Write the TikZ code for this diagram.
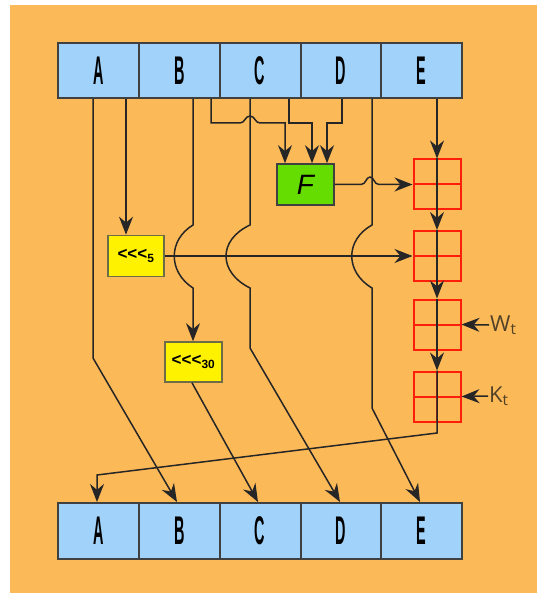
\documentclass[tikz,border=0pt]{standalone}
\usepackage{fontspec}
\setmainfont{Liberation Sans}
\newfontfamily\lightfont{Open Sans}
\usetikzlibrary{arrows.meta,calc}
\definecolor{bgorange}{RGB}{252,185,88}
\definecolor{regblue}{RGB}{160,210,250}
\definecolor{fgreen}{RGB}{102,221,0}
\definecolor{addred}{RGB}{255,30,10}
\definecolor{wktext}{RGB}{80,65,40}
\tikzset{myarrow/.tip={Stealth[length=18pt,width=14pt]}}
\begin{document}
\begin{tikzpicture}[x=1pt,y=-1pt,
  reg/.style={draw=black!75,line width=2pt,fill=regblue,minimum width=80.8pt,minimum height=55pt,inner sep=0pt,font=\fontsize{40}{40}\selectfont\bfseries},
  rot/.style={draw=black!65!yellow,line width=1.6pt,fill=yellow,inner sep=0pt,font=\fontsize{17}{17}\selectfont\bfseries},
  fbox/.style={draw=black!75,line width=1.6pt,fill=fgreen,minimum width=57pt,minimum height=41pt,inner sep=0pt,font=\fontsize{28}{28}\selectfont\itshape},
  adder/.style={draw=addred,line width=2pt,minimum width=47pt,minimum height=50pt,inner sep=0pt,
    path picture={\draw[addred,line width=2pt] (path picture bounding box.west) -- (path picture bounding box.east);
                  \draw[addred,line width=2pt] (path picture bounding box.north) -- (path picture bounding box.south);}},
  conn/.style={line width=1.5pt,draw=black!85},
  arr/.style={conn,-myarrow},
  wk/.style={inner sep=1pt,text=wktext,font=\lightfont\fontsize{22}{22}\selectfont}
]
\useasboundingbox (0,0) rectangle (537,593);
\fill[bgorange] (10,5) rectangle (537,593);

% top register
\node[reg] (t1) at (98.5,70.5) {\scalebox{0.36}[1]{A}};
\node[reg] (t2) at (179.3,70.5) {\scalebox{0.36}[1]{B}};
\node[reg] (t3) at (260.1,70.5) {\scalebox{0.36}[1]{C}};
\node[reg] (t4) at (340.9,70.5) {\scalebox{0.36}[1]{D}};
\node[reg] (t5) at (421.7,70.5) {\scalebox{0.36}[1]{E}};
% bottom register
\node[reg,minimum height=56pt] (b1) at (98.5,531) {\scalebox{0.36}[1]{A}};
\node[reg,minimum height=56pt] (b2) at (179.3,531) {\scalebox{0.36}[1]{B}};
\node[reg,minimum height=56pt] (b3) at (260.1,531) {\scalebox{0.36}[1]{C}};
\node[reg,minimum height=56pt] (b4) at (340.9,531) {\scalebox{0.36}[1]{D}};
\node[reg,minimum height=56pt] (b5) at (421.7,531) {\scalebox{0.36}[1]{E}};

% function and rotations
\node[fbox] (F) at (305.5,184.5) {F};
\node[rot,minimum width=56pt,minimum height=41pt] (r5) at (136,256) {<{}<{}<\textsubscript{5}};
\node[rot,minimum width=57pt,minimum height=40pt] (r30) at (193.5,362) {<{}<{}<\textsubscript{30}};

% adders
\node[adder] (a1) at (437,184.5) {};
\node[adder] (a2) at (437,256) {};
\node[adder] (a3) at (437,324.5) {};
\node[adder] (a4) at (437,396.5) {};

% W and K inputs
\node[wk,anchor=west] (w) at (489,325) {W\textsubscript{t}};
\node[wk,anchor=west] (k) at (488,396) {K\textsubscript{t}};
\draw[arr] (w.west) -- (a3.east);
\draw[arr] (k.west) -- (a4.east);

% A lines
\draw[arr] ([xshift=27.5pt]t1.south) -- ([xshift=-10pt]r5.north);
\draw[arr] ([xshift=-5.5pt]t1.south) -- (93,358) -- ([xshift=-2.3pt]b2.north);

% B lines
\draw[arr] ([xshift=13.7pt]t2.south) -- (193,225) .. controls (168,240) and (168,272) .. (193,288) -- ([xshift=-0.5pt]r30.north);
\draw[arr] ([xshift=31.7pt]t2.south) -- (211,123) -- (240,123) .. controls (245,123) and (245,116) .. (250,116) .. controls (255,116) and (255,123) .. (260,123) -- (285,123) -- ([xshift=-20.5pt]F.north);

% C lines
\draw[arr] ([xshift=-10.1pt]t3.south) -- (250,225) .. controls (218,240) and (218,272) .. (250,288) -- (250,348) -- ([xshift=-0.9pt]b4.north);
\draw[arr] ([xshift=28.9pt]t3.south) -- (289,123) -- (312,123) -- ([xshift=6.5pt]F.north);

% D lines
\draw[arr] ([xshift=1.1pt]t4.south) -- (342,123) -- (327,123) -- ([xshift=21.5pt]F.north);
\draw[arr] ([xshift=31.1pt]t4.south) -- (372,225) .. controls (345,240) and (345,272) .. (372,288) -- (372,408) -- ([xshift=-1.7pt]b5.north);

% <<<30 output
\draw[arr] ([xshift=-1.5pt]r30.south) -- ([xshift=-2.1pt]b3.north);

% F output
\draw[arr] (F.east) -- (361,184.5) .. controls (366,184.5) and (366,177) .. (370,177) .. controls (374,177) and (374,184.5) .. (379,184.5) -- (a1.west);

% <<<5 output
\draw[arr] (r5.east) -- (a2.west);

% E and adder chain
\draw[arr] ([xshift=15.3pt]t5.south) -- (a1.north);
\draw[conn] (a1.north) -- (a1.south);
\draw[arr] (a1.south) -- (a2.north);
\draw[conn] (a2.north) -- (a2.south);
\draw[arr] (a2.south) -- (a3.north);
\draw[conn] (a3.north) -- (a3.south);
\draw[arr] (a3.south) -- (a4.north);
\draw[arr] (a4.north) -- (a4.south) -- (437,433) -- (97,475) -- ([xshift=-1.5pt]b1.north);
\end{tikzpicture}
\end{document}
